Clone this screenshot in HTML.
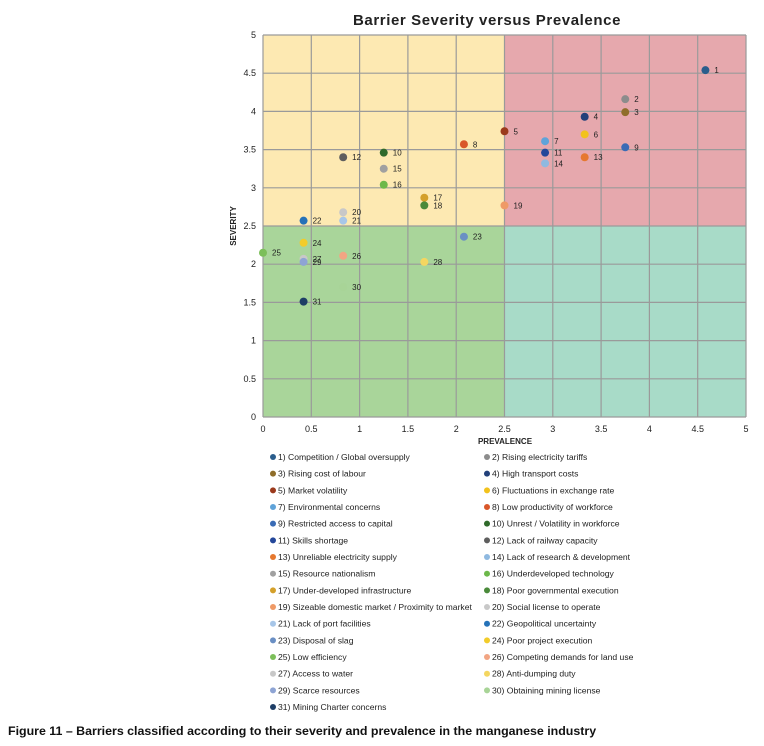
<!DOCTYPE html>
<html><head><meta charset="utf-8"><style>
body{margin:0;background:#fff;font-family:"Liberation Sans",sans-serif}
svg text{font-family:"Liberation Sans",sans-serif}
</style></head><body>
<svg id="chart" width="764" height="741">
<text x="487" y="25" text-anchor="middle" font-size="15" font-weight="bold" letter-spacing="0.6" fill="#222">Barrier Severity versus Prevalence</text>
<g id="plot"></g>
<text x="505" y="444" text-anchor="middle" font-size="8" font-weight="bold" fill="#222">PREVALENCE</text>
<text x="0" y="0" transform="translate(236,226) rotate(-90)" text-anchor="middle" font-size="8" font-weight="bold" fill="#222">SEVERITY</text>
<g id="legend"></g>
<text x="8" y="735" font-size="12.4" font-weight="bold" fill="#111">Figure 11 – Barriers classified according to their severity and prevalence in the manganese industry</text>
</svg>
<script>
const labels=["Competition / Global oversupply","Rising electricity tariffs","Rising cost of labour","High transport costs","Market volatility","Fluctuations in exchange rate","Environmental concerns","Low productivity of workforce","Restricted access to capital","Unrest / Volatility in workforce","Skills shortage","Lack of railway capacity","Unreliable electricity supply","Lack of research & development","Resource nationalism","Underdeveloped technology","Under-developed infrastructure","Poor governmental execution","Sizeable domestic market / Proximity to market","Social license to operate","Lack of port facilities","Geopolitical uncertainty","Disposal of slag","Poor project execution","Low efficiency","Competing demands for land use","Access to water","Anti-dumping duty","Scarce resources","Obtaining mining license","Mining Charter concerns"];
const prevalence=[4.58,3.75,3.75,3.33,2.5,3.33,2.92,2.08,3.75,1.25,2.92,0.83,3.33,2.92,1.25,1.25,1.67,1.67,2.5,0.83,0.83,0.42,2.08,0.42,0,0.83,0.42,1.67,0.42,0.83,0.42];
const severity=[4.54,4.16,3.99,3.93,3.74,3.70,3.61,3.57,3.53,3.46,3.46,3.40,3.40,3.32,3.25,3.04,2.87,2.77,2.77,2.68,2.57,2.57,2.36,2.28,2.15,2.11,2.07,2.03,2.03,1.70,1.51];
const colors=["#2a5d8c","#8c8c8c","#8f6d2a","#22407a","#9b3a1c","#f2c21c","#5fa3d9","#d9572a","#3a6bb5","#2f6a2a","#24479a","#5e5e5e","#e6782f","#8fb9e0","#a0a0a0","#6cb84a","#d4a02a","#4a8a3a","#ef9a66","#c8c8c8","#a7c6e8","#2672b8","#6a8fc4","#f2cc2a","#7cbf5a","#f2a583","#c8c8c8","#f4d660","#8ea4d4","#a8d497","#1e3e66"];
const xTicks=[0,0.5,1,1.5,2,2.5,3,3.5,4,4.5,5];
const yTicks=[0,0.5,1,1.5,2,2.5,3,3.5,4,4.5,5];
const X0=263,X1=746,Y0=417,Y1=35;
const sx=v=>X0+(X1-X0)*v/5, sy=v=>Y0-(Y0-Y1)*v/5;
const NS="http://www.w3.org/2000/svg";
function mk(t,a,p){const e=document.createElementNS(NS,t);for(const k in a)e.setAttribute(k,a[k]);p.appendChild(e);return e;}
const plot=document.getElementById('plot');
const quads=[[0,2.5,2.5,5,"#fde9b2","quadrant-high-severity-low-prevalence"],[2.5,2.5,5,5,"#e6a8ad","quadrant-high-severity-high-prevalence"],[0,0,2.5,2.5,"#a9d59a","quadrant-low-severity-low-prevalence"],[2.5,0,5,2.5,"#a8dbc8","quadrant-low-severity-high-prevalence"]];
quads.forEach(q=>{const r=mk('rect',{x:sx(q[0]),y:sy(q[3]),width:sx(q[2])-sx(q[0]),height:sy(q[1])-sy(q[3]),fill:q[4]},plot);

});
xTicks.forEach(v=>{const l=mk('line',{x1:sx(v),x2:sx(v),y1:Y1,y2:Y0,stroke:'#9a9a9a','stroke-width':1.2},plot);


const t=mk('text',{x:sx(v),y:Y0+15,'text-anchor':'middle','font-size':9,fill:'#222'},plot);t.textContent=v;

});
yTicks.forEach(v=>{const l=mk('line',{x1:X0,x2:X1,y1:sy(v),y2:sy(v),stroke:'#9a9a9a','stroke-width':1.2},plot);


const t=mk('text',{x:X0-7,y:sy(v)+3,'text-anchor':'end','font-size':9,fill:'#222'},plot);t.textContent=v;

});
prevalence.forEach((p,i)=>{const c=mk('circle',{cx:sx(p),cy:sy(severity[i]),r:4,fill:colors[i]},plot);


const t=mk('text',{x:sx(p)+9,y:sy(severity[i])+3,'font-size':8,fill:'#222'},plot);t.textContent=i+1;

});
const lg=document.getElementById('legend');
labels.forEach((s,i)=>{const col=i%2,row=Math.floor(i/2);const x=col?487:273,y=457+row*16.67;
const c=mk('circle',{cx:x,cy:y,r:3,fill:colors[i]},lg);


const t=mk('text',{x:x+5,y:y+3,'font-size':8.6,fill:'#222'},lg);t.textContent=(i+1)+') '+s;

});
</script>
</body></html>
